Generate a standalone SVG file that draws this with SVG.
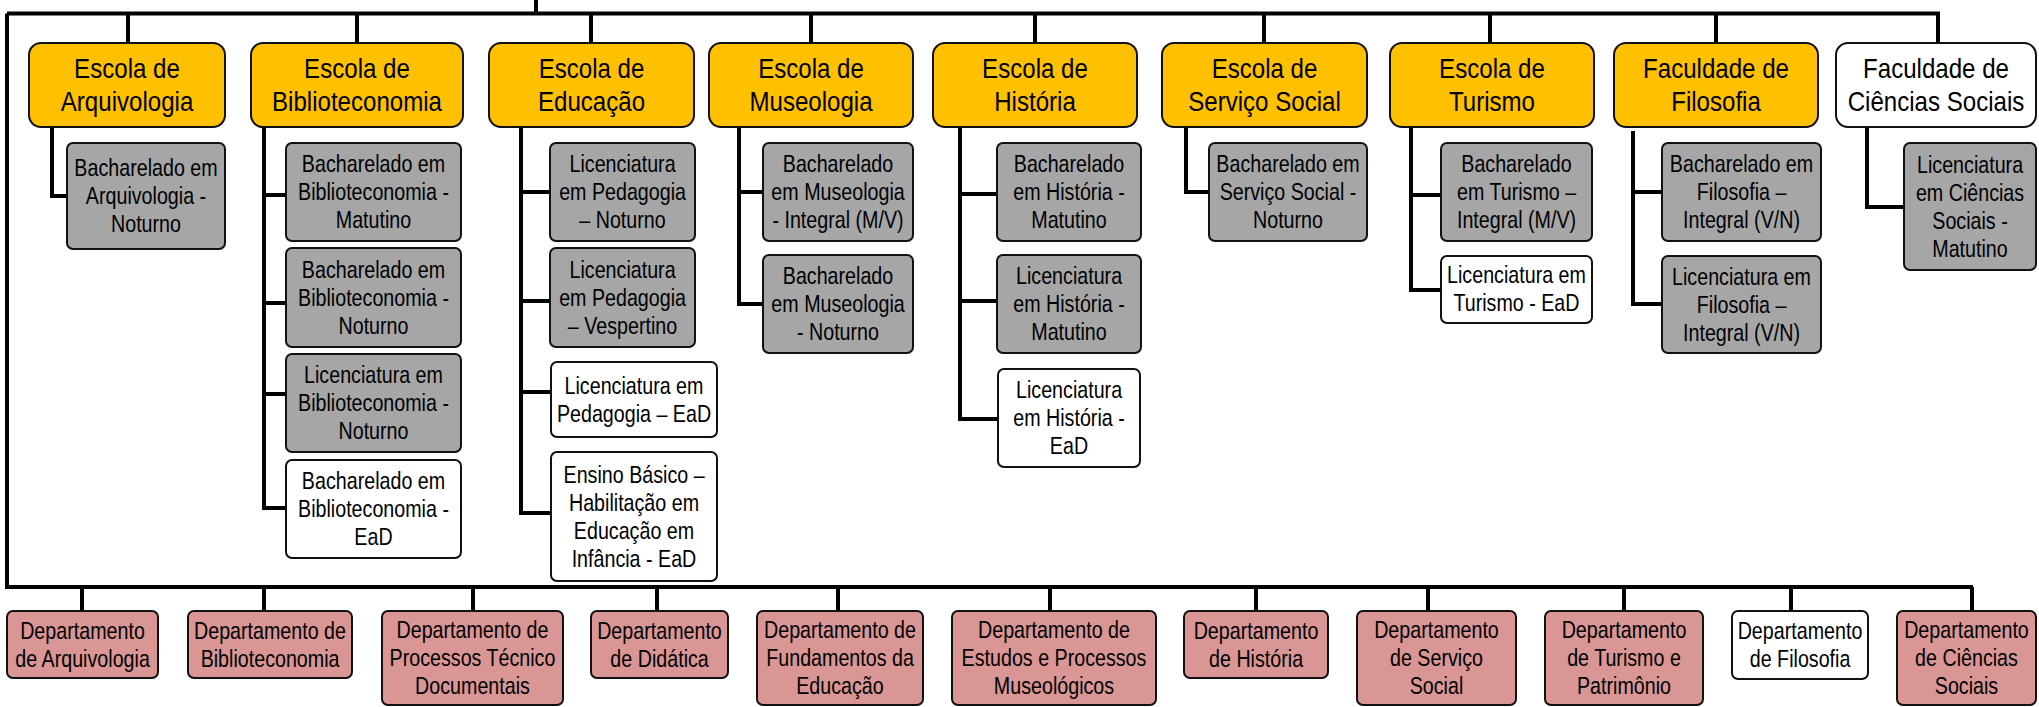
<svg xmlns="http://www.w3.org/2000/svg" width="2039" height="707" viewBox="0 0 2039 707">
<style>
text{font-family:"Liberation Sans Narrow","Arial Narrow","Liberation Sans",Arial,sans-serif;fill:#000;text-anchor:middle;transform-box:fill-box;transform-origin:center;transform:scaleX(0.82)}
.t text{font-size:28.5px;transform:scaleX(0.845)}
.s text,.d text{font-size:24px}
.t rect{rx:12px;ry:12px}
.s rect,.d rect{rx:6px;ry:6px}
.t rect,.s rect,.d rect{stroke:#111;stroke-width:2}
.y{fill:#FFC000}.g{fill:#A6A6A6}.w{fill:#FFFFFF}.p{fill:#D99694}
#conn path{fill:none;stroke:#000;stroke-width:4;stroke-linejoin:miter}
</style>
<g id="conn">
<path d="M536,0V13.5M7,13.5H1940M7,13.5V587H1973"/>
<path d="M128,13.5V43M357,13.5V43M591,13.5V43M811,13.5V43M1035,13.5V43M1264,13.5V43M1490,13.5V43M1716,13.5V43M1938,13.5V43"/>
<path d="M82,587V611M264,587V611M473,587V611M657,587V611M838,587V611M1050,587V611M1256,587V611M1428,587V611M1624,587V611M1791,587V611M1972,587V611"/>
<path d="M52,127V196H67"/>
<path d="M264,127V508H286M264,195H286M264,303H286M264,394H286"/>
<path d="M521,127V513H551M521,192H550M521,301H550M521,392H551"/>
<path d="M739,127V304H763M739,192H763"/>
<path d="M960,127V419H998M960,194H997M960,301H997"/>
<path d="M1186,127V192H1209"/>
<path d="M1411,127V290H1441M1411,195H1441"/>
<path d="M1633,131V304H1662M1633,192H1662"/>
<path d="M1867,127V207H1904"/>
</g>
<g class="t">
<g id="escola-arquivologia"><rect class="y" x="29" y="43" width="196" height="84"/><text x="127" y="78.5">Escola de</text><text x="127" y="111.5">Arquivologia</text></g>
<g id="escola-biblioteconomia"><rect class="y" x="251" y="43" width="212" height="84"/><text x="357" y="78.5">Escola de</text><text x="357" y="111.5">Biblioteconomia</text></g>
<g id="escola-educacao"><rect class="y" x="489" y="43" width="205" height="84"/><text x="591.5" y="78.5">Escola de</text><text x="591.5" y="111.5">Educação</text></g>
<g id="escola-museologia"><rect class="y" x="709" y="43" width="204" height="84"/><text x="811" y="78.5">Escola de</text><text x="811" y="111.5">Museologia</text></g>
<g id="escola-historia"><rect class="y" x="933" y="43" width="204" height="84"/><text x="1035" y="78.5">Escola de</text><text x="1035" y="111.5">História</text></g>
<g id="escola-servico-social"><rect class="y" x="1162" y="43" width="205" height="84"/><text x="1264.5" y="78.5">Escola de</text><text x="1264.5" y="111.5">Serviço Social</text></g>
<g id="escola-turismo"><rect class="y" x="1390" y="43" width="204" height="84"/><text x="1492" y="78.5">Escola de</text><text x="1492" y="111.5">Turismo</text></g>
<g id="faculdade-filosofia"><rect class="y" x="1614" y="43" width="204" height="84"/><text x="1716" y="78.5">Faculdade de</text><text x="1716" y="111.5">Filosofia</text></g>
<g id="faculdade-ciencias-sociais"><rect class="w" x="1836" y="43" width="200" height="84"/><text x="1936" y="78.5">Faculdade de</text><text x="1936" y="111.5">Ciências Sociais</text></g>
</g>
<g class="s">
<g id="bach-arquivologia-noturno"><rect class="g" x="67" y="143" width="158" height="106"/><text x="146" y="176">Bacharelado em</text><text x="146" y="204">Arquivologia -</text><text x="146" y="232">Noturno</text></g>
<g id="bach-biblio-matutino"><rect class="g" x="286" y="143" width="175" height="98"/><text x="373.5" y="172.5">Bacharelado em</text><text x="373.5" y="200.5">Biblioteconomia -</text><text x="373.5" y="228.5">Matutino</text></g>
<g id="bach-biblio-noturno"><rect class="g" x="286" y="248" width="175" height="99"/><text x="373.5" y="278">Bacharelado em</text><text x="373.5" y="306">Biblioteconomia -</text><text x="373.5" y="334">Noturno</text></g>
<g id="lic-biblio-noturno"><rect class="g" x="286" y="354" width="175" height="98"/><text x="373.5" y="383.5">Licenciatura em</text><text x="373.5" y="411.5">Biblioteconomia -</text><text x="373.5" y="439.5">Noturno</text></g>
<g id="bach-biblio-ead"><rect class="w" x="286" y="460" width="175" height="98"/><text x="373.5" y="489.5">Bacharelado em</text><text x="373.5" y="517.5">Biblioteconomia -</text><text x="373.5" y="545.5">EaD</text></g>
<g id="lic-pedagogia-noturno"><rect class="g" x="550" y="143" width="145" height="98"/><text x="622.5" y="172.5">Licenciatura</text><text x="622.5" y="200.5">em Pedagogia</text><text x="622.5" y="228.5">– Noturno</text></g>
<g id="lic-pedagogia-vespertino"><rect class="g" x="550" y="248" width="145" height="99"/><text x="622.5" y="278">Licenciatura</text><text x="622.5" y="306">em Pedagogia</text><text x="622.5" y="334">– Vespertino</text></g>
<g id="lic-pedagogia-ead"><rect class="w" x="551" y="362" width="166" height="75"/><text x="634" y="394">Licenciatura em</text><text x="634" y="422">Pedagogia – EaD</text></g>
<g id="ensino-basico-ead"><rect class="w" x="551" y="452" width="166" height="129"/><text x="634" y="483">Ensino Básico –</text><text x="634" y="511">Habilitação em</text><text x="634" y="539">Educação em</text><text x="634" y="567">Infância - EaD</text></g>
<g id="bach-museologia-integral"><rect class="g" x="763" y="143" width="150" height="98"/><text x="838" y="172.5">Bacharelado</text><text x="838" y="200.5">em Museologia</text><text x="838" y="228.5">- Integral (M/V)</text></g>
<g id="bach-museologia-noturno"><rect class="g" x="763" y="255" width="150" height="98"/><text x="838" y="284.5">Bacharelado</text><text x="838" y="312.5">em Museologia</text><text x="838" y="340.5">- Noturno</text></g>
<g id="bach-historia-matutino"><rect class="g" x="997" y="143" width="144" height="98"/><text x="1069" y="172.5">Bacharelado</text><text x="1069" y="200.5">em História -</text><text x="1069" y="228.5">Matutino</text></g>
<g id="lic-historia-matutino"><rect class="g" x="997" y="255" width="144" height="98"/><text x="1069" y="284.5">Licenciatura</text><text x="1069" y="312.5">em História -</text><text x="1069" y="340.5">Matutino</text></g>
<g id="lic-historia-ead"><rect class="w" x="998" y="369" width="142" height="98"/><text x="1069" y="398.5">Licenciatura</text><text x="1069" y="426.5">em História -</text><text x="1069" y="454.5">EaD</text></g>
<g id="bach-servico-social-noturno"><rect class="g" x="1209" y="143" width="158" height="98"/><text x="1288" y="172.5">Bacharelado em</text><text x="1288" y="200.5">Serviço Social -</text><text x="1288" y="228.5">Noturno</text></g>
<g id="bach-turismo-integral"><rect class="g" x="1441" y="143" width="151" height="98"/><text x="1516.5" y="172.5">Bacharelado</text><text x="1516.5" y="200.5">em Turismo –</text><text x="1516.5" y="228.5">Integral (M/V)</text></g>
<g id="lic-turismo-ead"><rect class="w" x="1441" y="256" width="151" height="67"/><text x="1516.5" y="283.5">Licenciatura em</text><text x="1516.5" y="311.5">Turismo - EaD</text></g>
<g id="bach-filosofia-integral"><rect class="g" x="1662" y="143" width="159" height="98"/><text x="1741.5" y="172.5">Bacharelado em</text><text x="1741.5" y="200.5">Filosofia –</text><text x="1741.5" y="228.5">Integral (V/N)</text></g>
<g id="lic-filosofia-integral"><rect class="g" x="1662" y="256" width="159" height="97"/><text x="1741.5" y="285">Licenciatura em</text><text x="1741.5" y="313">Filosofia –</text><text x="1741.5" y="341">Integral (V/N)</text></g>
<g id="lic-ciencias-sociais-matutino"><rect class="g" x="1904" y="143" width="132" height="127"/><text x="1970" y="173">Licenciatura</text><text x="1970" y="201">em Ciências</text><text x="1970" y="229">Sociais -</text><text x="1970" y="257">Matutino</text></g>
</g>
<g class="d">
<g id="dep-arquivologia"><rect class="p" x="7" y="611" width="151" height="67"/><text x="82.5" y="639">Departamento</text><text x="82.5" y="667">de Arquivologia</text></g>
<g id="dep-biblioteconomia"><rect class="p" x="188" y="611" width="164" height="67"/><text x="270" y="639">Departamento de</text><text x="270" y="667">Biblioteconomia</text></g>
<g id="dep-processos"><rect class="p" x="382" y="611" width="181" height="94"/><text x="472.5" y="638.5">Departamento de</text><text x="472.5" y="666.5">Processos Técnico</text><text x="472.5" y="694.5">Documentais</text></g>
<g id="dep-didatica"><rect class="p" x="591" y="611" width="137" height="67"/><text x="659.5" y="639">Departamento</text><text x="659.5" y="667">de Didática</text></g>
<g id="dep-fundamentos"><rect class="p" x="757" y="611" width="166" height="94"/><text x="840" y="638.5">Departamento de</text><text x="840" y="666.5">Fundamentos da</text><text x="840" y="694.5">Educação</text></g>
<g id="dep-estudos-museologicos"><rect class="p" x="952" y="611" width="204" height="94"/><text x="1054" y="638.5">Departamento de</text><text x="1054" y="666.5">Estudos e Processos</text><text x="1054" y="694.5">Museológicos</text></g>
<g id="dep-historia"><rect class="p" x="1184" y="611" width="144" height="67"/><text x="1256" y="639">Departamento</text><text x="1256" y="667">de História</text></g>
<g id="dep-servico-social"><rect class="p" x="1357" y="611" width="159" height="94"/><text x="1436.5" y="638.5">Departamento</text><text x="1436.5" y="666.5">de Serviço</text><text x="1436.5" y="694.5">Social</text></g>
<g id="dep-turismo"><rect class="p" x="1545" y="611" width="158" height="94"/><text x="1624" y="638.5">Departamento</text><text x="1624" y="666.5">de Turismo e</text><text x="1624" y="694.5">Patrimônio</text></g>
<g id="dep-filosofia"><rect class="w" x="1732" y="611" width="136" height="68"/><text x="1800" y="639">Departamento</text><text x="1800" y="667">de Filosofia</text></g>
<g id="dep-ciencias-sociais"><rect class="p" x="1897" y="611" width="139" height="94"/><text x="1966.5" y="638.5">Departamento</text><text x="1966.5" y="666.5">de Ciências</text><text x="1966.5" y="694.5">Sociais</text></g>
</g>
</svg>
